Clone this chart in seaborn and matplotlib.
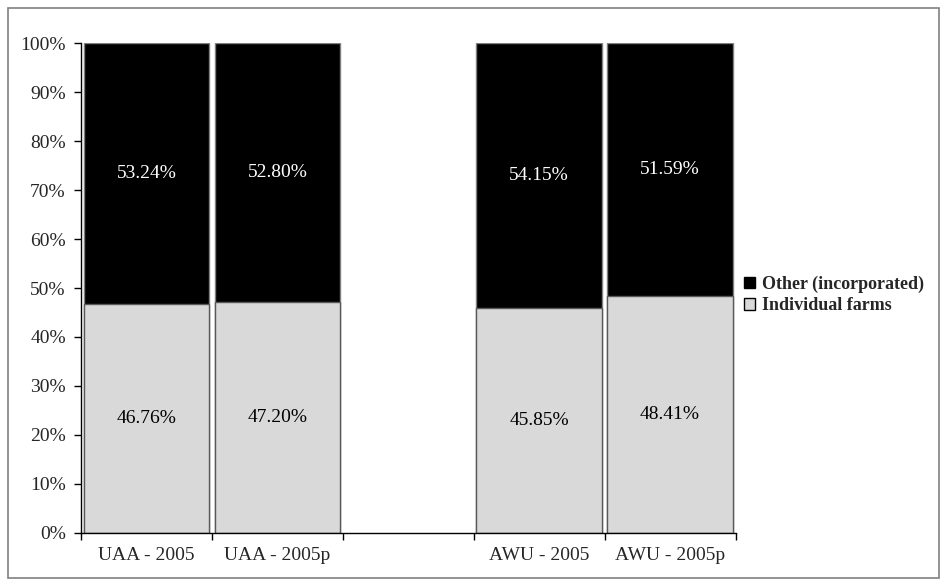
import pandas as pd
import seaborn as sns
import matplotlib.pyplot as plt
from matplotlib.patches import Patch, Rectangle

# data
categories = ['UAA - 2005', 'UAA - 2005p', 'AWU - 2005', 'AWU - 2005p']
individual = [46.76, 47.20, 45.85, 48.41]
other = [53.24, 52.80, 54.15, 51.59]
# empty slot between the two groups
order = ['UAA - 2005', 'UAA - 2005p', ' ', 'AWU - 2005', 'AWU - 2005p']

df = pd.DataFrame({'cat': categories, 'individual': individual, 'other': other})
df['total'] = df['individual'] + df['other']

sns.set_style('white')
plt.rcParams['font.family'] = ['Liberation Serif', 'DejaVu Serif']

fig = plt.figure(figsize=(9.43, 5.83), dpi=100)
ax = fig.add_axes([0.086, 0.086, 0.694, 0.840])

# stacked bars: full height black, then individual farms grey on top
sns.barplot(data=df, x='cat', y='total', order=order, color='black',
            width=0.96, edgecolor='#7f7f7f', linewidth=1, saturation=1, ax=ax)
sns.barplot(data=df, x='cat', y='individual', order=order, color='#d9d9d9',
            width=0.96, edgecolor='#595959', linewidth=1, saturation=1, ax=ax)

# value labels
for i, c in enumerate(categories):
    x = order.index(c)
    ax.text(x, individual[i] / 2, f'{individual[i]:.2f}%', ha='center',
            va='center', fontsize=14, color='black')
    ax.text(x, individual[i] + other[i] / 2, f'{other[i]:.2f}%', ha='center',
            va='center', fontsize=14, color='white')

ax.set_xlim(-0.5, 4.5)
ax.set_ylim(0, 100)
ax.set_yticks(range(0, 101, 10))
ax.set_yticklabels([f'{v}%' for v in range(0, 101, 10)], fontsize=14)
ax.set_xticks([i - 0.5 for i in range(6)])
ax.set_xticklabels([])
ax.set_xticks(range(5), minor=True)
ax.set_xticklabels(order, minor=True, fontsize=14)
ax.tick_params(axis='x', which='major', bottom=True, direction='out', length=5, width=1, color='black')
ax.tick_params(axis='x', which='minor', bottom=True, length=0, pad=10)
ax.tick_params(axis='y', left=True, direction='out', length=5, width=1, color='black', pad=6)
ax.set_xlabel('')
ax.set_ylabel('')
for s in ['top', 'right']:
    ax.spines[s].set_visible(False)
for s in ['left', 'bottom']:
    ax.spines[s].set_color('black')
    ax.spines[s].set_linewidth(1)

handles = [Patch(facecolor='black', edgecolor='black', label='Other (incorporated)'),
           Patch(facecolor='#d9d9d9', edgecolor='black', label='Individual farms')]
fig.legend(handles=handles, loc='center left', bbox_to_anchor=(0.772, 0.494),
           frameon=False, handlelength=0.6, handleheight=0.6, handletextpad=0.4,
           labelspacing=0.25, prop={'weight': 'bold', 'size': 13})

# grey frame around the whole chart
fig.patches.append(Rectangle((0.008, 0.008), 0.988, 0.978, transform=fig.transFigure,
                             fill=False, edgecolor='#808080', linewidth=1.2))

fig.savefig('out.png', dpi=100)
